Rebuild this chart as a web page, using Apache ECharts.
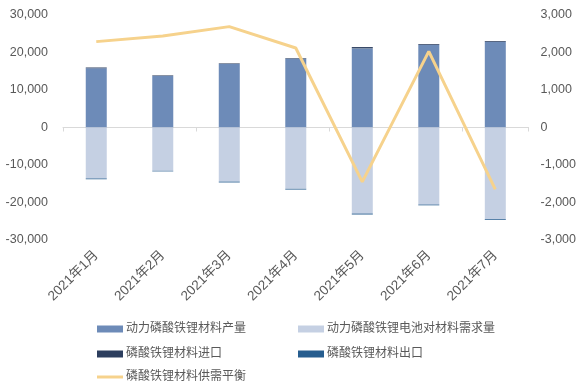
<!DOCTYPE html>
<html><head><meta charset="utf-8">
<script src="https://cdn.jsdelivr.net/npm/echarts@6/dist/echarts.min.js"></script>
<style>html,body{margin:0;padding:0;background:#fff}#c{width:579px;height:389px}</style>
</head><body><div id="c"></div>
<script>
const categories = ['2021年1月','2021年2月','2021年3月','2021年4月','2021年5月','2021年6月','2021年7月'];
const production = [15800, 13750, 16950, 18350, 21100, 22050, 22850];
const demand = [-13600, -11550, -14450, -16350, -22950, -20550, -24450];
const imports = [200, 150, 150, 150, 350, 200, 200];
const exports = [-200, -150, -200, -200, -250, -200, -200];
const balance = [2290, 2440, 2690, 2120, -1450, 2030, -1650];
const leftTicks = [-30000, 30000, 10000];
const rightTicks = [-3000, 3000, 1000];
const names = ['动力磷酸铁锂材料产量','动力磷酸铁锂电池对材料需求量','磷酸铁锂材料进口','磷酸铁锂材料出口','磷酸铁锂材料供需平衡'];

const fmt = v => v.toString().replace(/\B(?=(\d{3})+(?!\d))/g, ',');
const font = '"Liberation Sans", "Noto Sans CJK SC", sans-serif';
const gray = '#595959';
const colors = ['#6d8bb8', '#c5d0e3', '#2c3e5e', '#265d8f', '#f6d28c'];

function leg(name, left, top, isLine) {
  return {
    data: [name], left: left, top: top, orient: 'horizontal',
    itemWidth: 26, itemHeight: isLine ? 3 : 7, icon: 'rect', itemGap: 3,
    textStyle: { fontSize: 12, color: gray, fontFamily: font, padding: [0,0,0,-2] }
  };
}

const chart = echarts.init(document.getElementById('c'), null, { renderer: 'canvas' });
chart.setOption({
  animation: false,
  textStyle: { fontFamily: font },
  grid: { left: 63, right: 49, top: 15, bottom: 149, containLabel: false },
  legend: [
    leg(names[0], 92, 318, false),
    leg(names[1], 293, 318, false),
    leg(names[2], 92, 343, false),
    leg(names[3], 293, 343, false),
    leg(names[4], 92, 366, true)
  ],
  xAxis: [
    { type: 'category', data: categories, position: 'bottom',
      axisLine: { onZero: true, lineStyle: { color: '#d9d9d9' } },
      axisTick: { show: true, length: 4, lineStyle: { color: '#d9d9d9' } },
      axisLabel: { show: false } },
    { type: 'category', data: categories, position: 'bottom',
      axisLine: { show: false, onZero: false }, axisTick: { show: false },
      axisLabel: { rotate: 45, fontSize: 13.5, color: gray, margin: 13, fontFamily: font } }
  ],
  yAxis: [
    { type: 'value', min: leftTicks[0], max: leftTicks[1], interval: leftTicks[2],
      axisLine: { show: false }, axisTick: { show: false }, splitLine: { show: false },
      axisLabel: { fontSize: 12.5, color: gray, margin: 15, formatter: fmt, fontFamily: font } },
    { type: 'value', min: rightTicks[0], max: rightTicks[1], interval: rightTicks[2],
      axisLine: { show: false }, axisTick: { show: false }, splitLine: { show: false },
      axisLabel: { fontSize: 12.5, color: gray, margin: 12, formatter: fmt, fontFamily: font } }
  ],
  series: [
    { name: names[0], type: 'bar', stack: 's', data: production, barWidth: 21, itemStyle: { color: colors[0] } },
    { name: names[1], type: 'bar', stack: 's', data: demand, itemStyle: { color: colors[1] } },
    { name: names[2], type: 'bar', stack: 's', data: imports, itemStyle: { color: colors[2] } },
    { name: names[3], type: 'bar', stack: 's', data: exports, itemStyle: { color: colors[3] } },
    { name: names[4], type: 'line', yAxisIndex: 1, data: balance, symbol: 'none',
      lineStyle: { width: 3, color: colors[4] }, itemStyle: { color: colors[4] }, z: 5 }
  ]
});
</script></body></html>
